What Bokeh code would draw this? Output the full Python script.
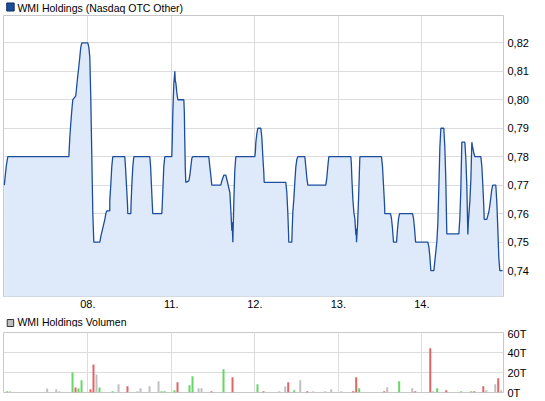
from bokeh.plotting import figure
from bokeh.layouts import column
from bokeh.models import (Range1d, FixedTicker, CustomJSTickFormatter, ColumnDataSource)
from bokeh.core.properties import value
from bokeh.embed import file_html
from bokeh.resources import INLINE

# ---------------- data ----------------
day_labels = ["08.", "11.", "12.", "13.", "14."]
day_ticks = [1, 2, 3, 4, 5]          # trading-day index (07. = 0)
price_ticks = [0.74, 0.75, 0.76, 0.77, 0.78, 0.79, 0.80, 0.81, 0.82]
volume_ticks = [0, 20, 40, 60]       # thousands (T)
price_title = "WMI Holdings (Nasdaq OTC Other)"
volume_title = "WMI Holdings Volumen"

price_t = [0.000, 0.012, 0.025, 0.042, 0.773, 0.777, 0.785, 0.797, 0.809, 0.820,
           0.856, 0.868, 0.880, 0.892, 0.904, 0.916, 0.928, 1.000, 1.012, 1.024,
           1.036, 1.048, 1.060, 1.072, 1.144, 1.156, 1.168, 1.180, 1.192, 1.204,
           1.216, 1.228, 1.263, 1.263, 1.275, 1.287, 1.299, 1.443, 1.451, 1.463,
           1.475, 1.479, 1.515, 1.518, 1.527, 1.539, 1.551, 1.743, 1.752, 1.762,
           1.772, 1.778, 1.886, 1.892, 1.901, 1.910, 1.922, 2.006, 2.012, 2.018,
           2.030, 2.042, 2.048, 2.054, 2.066, 2.078, 2.150, 2.156, 2.161, 2.167,
           2.173, 2.210, 2.222, 2.234, 2.246, 2.257, 2.449, 2.461, 2.473, 2.485,
           2.593, 2.605, 2.617, 2.629, 2.653, 2.665, 2.677, 2.701, 2.713, 2.725,
           2.729, 2.737, 2.749, 2.760, 2.772, 3.000, 3.006, 3.012, 3.024, 3.036,
           3.072, 3.084, 3.096, 3.108, 3.112, 3.371, 3.383, 3.395, 3.403, 3.407,
           3.443, 3.447, 3.455, 3.467, 3.479, 3.491, 3.503, 3.515, 3.599, 3.611,
           3.623, 3.635, 3.850, 3.862, 3.874, 3.886, 4.150, 4.156, 4.162, 4.174,
           4.186, 4.198, 4.210, 4.214, 4.218, 4.230, 4.242, 4.254, 4.258, 4.517,
           4.529, 4.541, 4.553, 4.557, 4.625, 4.637, 4.649, 4.661, 4.697, 4.709,
           4.721, 4.733, 4.889, 4.901, 4.913, 4.925, 5.072, 5.084, 5.096, 5.108,
           5.144, 5.156, 5.168, 5.180, 5.192, 5.204, 5.216, 5.228, 5.263, 5.275,
           5.287, 5.299, 5.443, 5.455, 5.467, 5.479, 5.515, 5.527, 5.539, 5.551,
           5.557, 5.575, 5.587, 5.599, 5.605, 5.611, 5.623, 5.635, 5.707, 5.719,
           5.731, 5.743, 5.747, 5.778, 5.790, 5.802, 5.814, 5.826, 5.838, 5.850,
           5.886, 5.898, 5.910, 5.922, 5.934, 5.966]

price_v = [0.770, 0.7735, 0.777, 0.780, 0.780, 0.7825, 0.787, 0.792, 0.7965, 0.800,
           0.8014, 0.805, 0.8085, 0.8115, 0.815, 0.8185, 0.820, 0.820, 0.8185, 0.815,
           0.800, 0.780, 0.760, 0.750, 0.750, 0.752, 0.7535, 0.755, 0.7565, 0.758,
           0.760, 0.761, 0.761, 0.7645, 0.770, 0.7765, 0.780, 0.780, 0.7765, 0.770,
           0.7635, 0.760, 0.760, 0.7633, 0.770, 0.7765, 0.780, 0.780, 0.7765, 0.770,
           0.7635, 0.760, 0.760, 0.7635, 0.770, 0.7765, 0.780, 0.780, 0.7865, 0.7955,
           0.8055, 0.810, 0.8065, 0.806, 0.8025, 0.800, 0.800, 0.7955, 0.786, 0.7765,
           0.771, 0.7715, 0.7735, 0.7765, 0.7795, 0.780, 0.780, 0.7765, 0.7735, 0.770,
           0.770, 0.7715, 0.7725, 0.7735, 0.7735, 0.772, 0.7705, 0.7675, 0.761, 0.754,
           0.757, 0.750, 0.7645, 0.775, 0.780, 0.780, 0.7815, 0.785, 0.788, 0.790,
           0.790, 0.7868, 0.780, 0.7743, 0.771, 0.771, 0.7675, 0.7605, 0.754, 0.750,
           0.750, 0.754, 0.7605, 0.7651, 0.771, 0.7764, 0.779, 0.780, 0.780, 0.7764,
           0.7725, 0.770, 0.770, 0.7725, 0.7765, 0.780, 0.780, 0.7775, 0.7725, 0.7651,
           0.7605, 0.7582, 0.7525, 0.7547, 0.750, 0.7559, 0.7651, 0.7764, 0.780, 0.780,
           0.7765, 0.770, 0.7635, 0.760, 0.760, 0.7582, 0.7547, 0.750, 0.750, 0.7547,
           0.7582, 0.760, 0.760, 0.7582, 0.7547, 0.750, 0.750, 0.7484, 0.745, 0.740,
           0.740, 0.7434, 0.7468, 0.7502, 0.7567, 0.7696, 0.7833, 0.790, 0.790, 0.7836,
           0.7722, 0.7529, 0.7529, 0.7582, 0.7685, 0.7851, 0.7851, 0.7794, 0.7697, 0.7527,
           0.757, 0.7643, 0.772, 0.7851, 0.7838, 0.783, 0.7812, 0.780, 0.780, 0.7765,
           0.7697, 0.7617, 0.758, 0.758, 0.7593, 0.7605, 0.7628, 0.7656, 0.7685, 0.770,
           0.770, 0.7639, 0.7547, 0.7445, 0.740, 0.740]

vol_t = [0.035, 0.071, 0.514, 0.622, 0.661, 0.817, 0.853, 0.889, 0.925, 1.032,
         1.068, 1.104, 1.140, 1.296, 1.368, 1.475, 1.595, 1.631, 1.739, 1.847,
         1.883, 1.919, 2.038, 2.074, 2.218, 2.254, 2.326, 2.362, 2.481, 2.625,
         2.733, 3.032, 3.104, 3.292, 3.364, 3.400, 3.472, 3.544, 3.628, 3.699,
         3.843, 3.915, 4.035, 4.178, 4.214, 4.250, 4.550, 4.586, 4.729, 4.885,
         4.921, 5.101, 5.136, 5.184, 5.292, 5.472, 5.592, 5.628, 5.736, 5.772,
         5.879, 5.915, 5.951]
vol_k = [1.3, 1.3, 4, 3.3, 1.3, 20, 5, 4, 12.3, 3.3,
         28, 18, 5, 1.3, 8.3, 6.3, 1.3, 4.3, 6.3, 11.3,
         1.3, 1.3, 2.3, 10.3, 7.3, 16.3, 4.3, 4.3, 1.3, 23.3,
         15.3, 8.3, 1.3, 1.3, 6, 10.3, 2.3, 12.3, 1.3, 1.3,
         1.3, 3.3, 1.3, 1.3, 15.3, 4.3, 1.3, 5.3, 11.3, 4.3,
         1.3, 44.3, 1.3, 4.3, 2.3, 1.3, 1.3, 1.3, 6.3, 2.3,
         8.3, 14.3, 2.3]
vol_dir = ["up", "flat", "flat", "flat", "flat", "up", "down", "up", "up", "down",
           "down", "flat", "up", "up", "flat", "down", "flat", "flat", "flat", "flat",
           "up", "up", "up", "down", "up", "up", "flat", "flat", "down", "up",
           "down", "up", "down", "flat", "flat", "down", "up", "flat", "down", "flat",
           "flat", "flat", "flat", "down", "down", "up", "down", "flat", "up", "flat",
           "down", "down", "flat", "up", "down", "up", "up", "down", "down", "flat",
           "flat", "down", "flat"]

# ---------------- styles ----------------
FONT = "Liberation Sans"
LINE = "#1c4e9d"
FILL = "#dee9f9"
GRID = "#dcdcdc"
FRAME = "#c8c8c8"
DIR_COLORS = {"up": "#66d666", "down": "#e06666", "flat": "#c0c0c0"}
W = 540

x_range = Range1d(-0.0096, 5.978)

day_fmt = CustomJSTickFormatter(args=dict(labels=day_labels),
                                code="const i = Math.round(tick) - 1; return (i >= 0 && i < labels.length) ? labels[i] : '';")


def style(fig):
    fig.outline_line_color = FRAME
    fig.xgrid.grid_line_color = GRID
    fig.ygrid.grid_line_color = GRID
    fig.xgrid.ticker = FixedTicker(ticks=day_ticks)
    for ax in fig.axis:
        ax.axis_line_color = None
        ax.major_tick_line_color = None
        ax.minor_tick_line_color = None
        ax.major_tick_out = 0
        ax.major_tick_in = 0
        ax.major_label_text_font = FONT
        ax.major_label_text_font_size = "11px"
        ax.major_label_text_color = "#000000"
    fig.background_fill_color = "white"
    fig.border_fill_color = "white"


def header(label, fill, line, h, sq_cy, sq_size, txt_cy):
    """A thin strip holding the legend-like caption (square + text)."""
    f = figure(width=W, height=h, x_range=Range1d(0, W), y_range=Range1d(h, 0),
               x_axis_location=None, y_axis_location=None, title=None,
               toolbar_location=None, output_backend="svg", min_border=0)
    f.outline_line_color = None
    for g in f.grid:
        g.visible = False
    f.background_fill_color = "white"
    f.border_fill_color = "white"
    f.rect(x=[7.5], y=[sq_cy], width=sq_size, height=sq_size,
           fill_color=fill, line_color=line, line_width=1)
    f.text(x=[15], y=[txt_cy], text=[label], text_baseline="middle",
           text_align="left", text_font=value(FONT), text_font_size="10.5px",
           text_color="#000000")
    return f


# ---------------- price chart ----------------
h1 = header(price_title, LINE, "#0b2a5c", 15, 6.5, 8, 7.0)

p = figure(width=W, height=296, x_range=x_range, title=None,
           y_range=Range1d(0.7309, 0.8296), y_axis_location="right",
           output_backend="svg", toolbar_location=None,
           min_border_left=3, min_border_right=37, min_border_top=0,
           min_border_bottom=15)
style(p)
p.yaxis.ticker = FixedTicker(ticks=price_ticks)
p.yaxis.formatter = CustomJSTickFormatter(code="return tick.toFixed(2).replace('.', ',');")
p.yaxis.major_label_standoff = 4
p.xaxis.ticker = FixedTicker(ticks=day_ticks)
p.xaxis.formatter = day_fmt
p.xaxis.major_label_standoff = 3

src = ColumnDataSource(dict(t=price_t, v=price_v))
p.varea(x="t", y1=0.0, y2="v", source=src, fill_color=FILL)
p.line(x="t", y="v", source=src, line_color=LINE, line_width=1.3)

# ---------------- volume chart ----------------
h2 = header(volume_title, "#bdbdbd", "#333333", 16, 11.5, 7, 10.0)

v = figure(width=W, height=72, x_range=x_range, title=None,
           y_range=Range1d(0, 60), y_axis_location="right",
           output_backend="svg", toolbar_location=None,
           min_border_left=3, min_border_right=37, min_border_top=5,
           min_border_bottom=7)
style(v)
v.xaxis.visible = False
v.yaxis.ticker = FixedTicker(ticks=volume_ticks)
v.yaxis.formatter = CustomJSTickFormatter(code="return tick.toFixed(0) + 'T';")
v.yaxis.major_label_standoff = 4

vsrc = ColumnDataSource(dict(t=vol_t, k=vol_k, c=[DIR_COLORS[d] for d in vol_dir]))
v.vbar(x="t", top="k", bottom=0, width=0.024, source=vsrc, fill_color="c",
       line_color=None)

layout = column(h1, p, h2, v, spacing=0)
open("out.html", "w").write(file_html(layout, INLINE))
